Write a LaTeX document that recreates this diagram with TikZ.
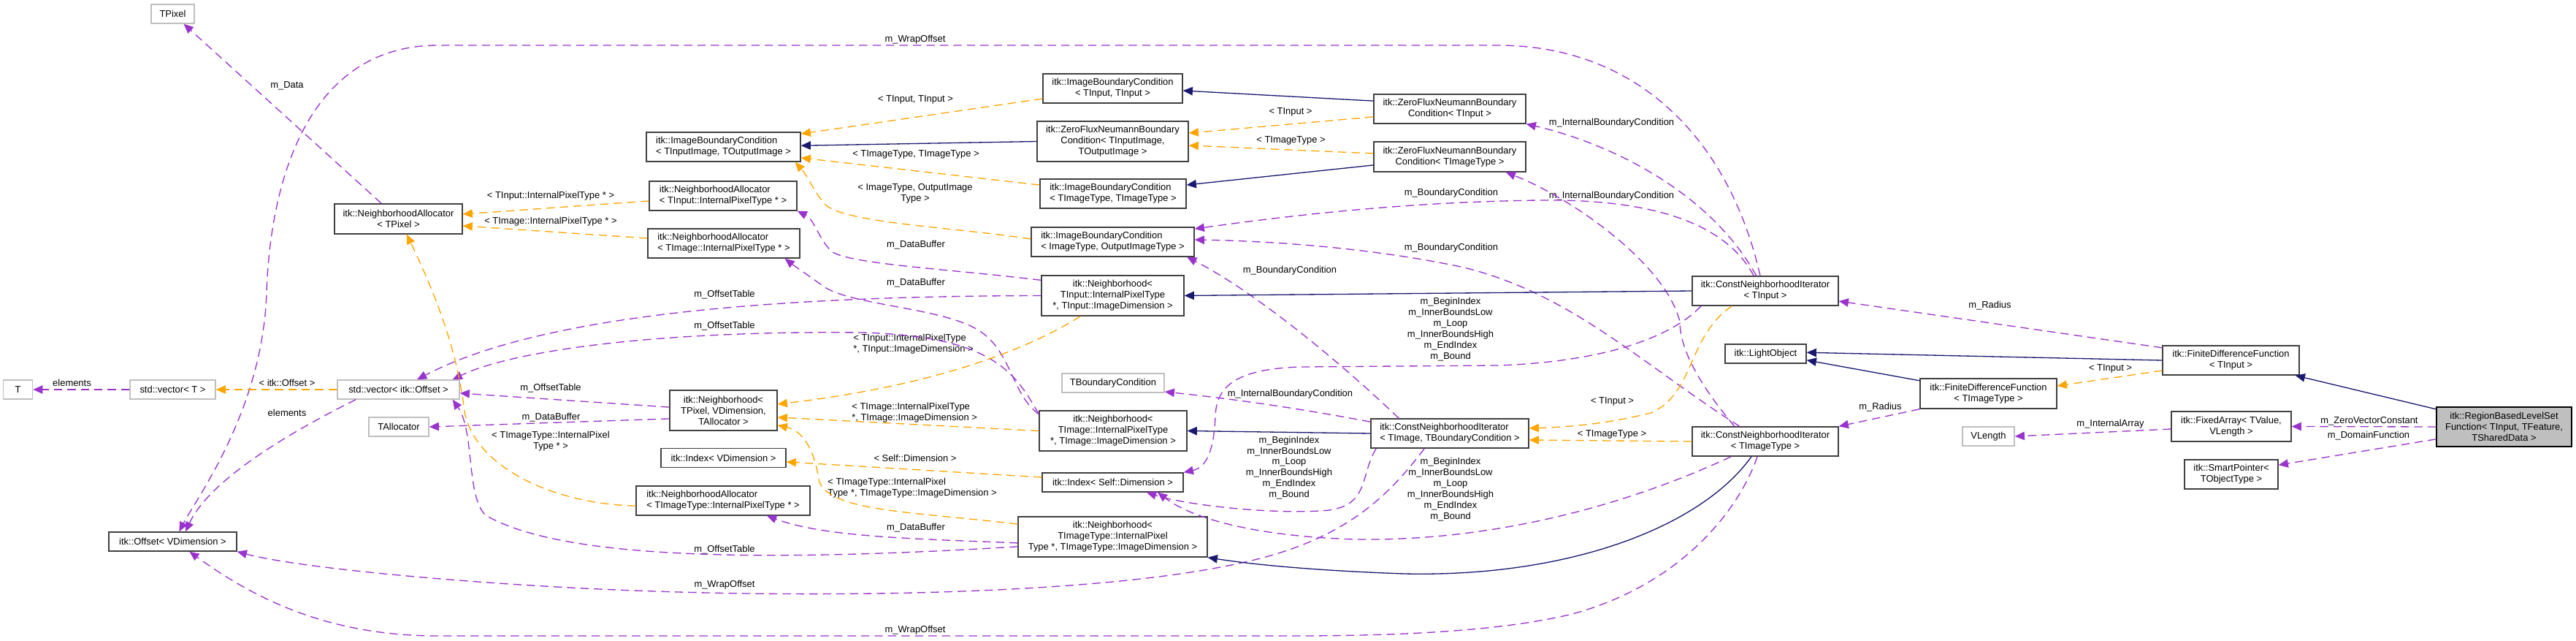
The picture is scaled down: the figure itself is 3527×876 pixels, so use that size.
\documentclass[tikz,border=0pt]{standalone}
\usepackage{fontspec}
\setmainfont{Liberation Sans}
\usetikzlibrary{arrows.meta}
\definecolor{usecol}{RGB}{154,50,205}
\definecolor{tplcol}{RGB}{255,165,0}
\definecolor{inhcol}{RGB}{25,25,112}
\definecolor{boxcol}{RGB}{64,64,64}
\definecolor{extcol}{RGB}{191,191,191}

\begin{document}
\begin{tikzpicture}[x=0.02cm, y=-0.02cm, font={\fontsize{7.37}{8.5}\selectfont},
    cls/.style={rectangle, draw=boxcol, fill=white, line width=0.8pt, inner sep=1pt, align=center},
    clsl/.style={cls, align=left},
    ext/.style={cls, draw=extcol},
    focus/.style={cls, draw=black, fill=extcol},
    lbl/.style={inner sep=0pt, align=center},
    lbll/.style={inner sep=0pt, align=left, anchor=west},
    usedge/.style={draw=usecol, line width=0.75pt, dash pattern=on 6.5pt off 4pt, -{Triangle[length=7.5pt,width=6.5pt]}},
    tpledge/.style={usedge, draw=tplcol},
    inhedge/.style={draw=inhcol, line width=0.75pt, -{Triangle[length=7.5pt,width=6.5pt]}}]
  \useasboundingbox (0,0) rectangle (3527,876);

  % classes
  \foreach \n/\s/\x/\y/\w/\h/\txt in {
    tpixel/ext/236.5/19/59/26/TPixel,
    t/ext/24.5/533/40/26/T,
    vect/ext/236.5/533/117/26/{std::vector< T >},
    vecoff/ext/545.5/533/167/26/{std::vector< itk::Offset >},
    talloc/ext/546/584/82/26/TAllocator,
    tbc/ext/1524/524/140/26/TBoundaryCondition,
    vlen/ext/2722.5/597/71/26/VLength,
    natp/cls/545.5/299.5/175/41/{itk::NeighborhoodAllocator\\< TPixel >},
    offset/cls/236.5/741/175/26/{itk::Offset< VDimension >},
    ibcio/clsl/990.5/201/211/40/{itk::ImageBoundaryCondition\\< TInputImage, TOutputImage >},
    nain/clsl/990/268/202/40/{itk::NeighborhoodAllocator\\< TInput::InternalPixelType * >},
    naim/clsl/991/333/208/40/{itk::NeighborhoodAllocator\\< TImage::InternalPixelType * >},
    nbpix/cls/990.5/561.5/147/55/{itk::Neighborhood<\\TPixel, VDimension,\\TAllocator >},
    idxv/cls/990.5/626.5/171/26/{itk::Index< VDimension >},
    nait/clsl/990/685/238/40/{itk::NeighborhoodAllocator\\< TImageType::InternalPixelType * >},
    ibcin/cls/1523.5/121/191/40/{itk::ImageBoundaryCondition\\< TInput, TInput >},
    zfio/cls/1523.5/193.5/207/55/{itk::ZeroFluxNeumannBoundary\\Condition< TInputImage,\\TOutputImage >},
    ibcit/clsl/1524/265/200/40/{itk::ImageBoundaryCondition\\< TImageType, TImageType >},
    ibcout/clsl/1523.5/331/223/40/{itk::ImageBoundaryCondition\\< ImageType, OutputImageType >},
    nbin/cls/1523.5/404.5/195/55/{itk::Neighborhood<\\TInput::InternalPixelType\\*, TInput::ImageDimension >},
    nbim/cls/1524/589.5/202/55/{itk::Neighborhood<\\TImage::InternalPixelType\\*, TImage::ImageDimension >},
    idxs/cls/1523.5/660/193/26/{itk::Index< Self::Dimension >},
    nbit/cls/1523.5/734.5/259/55/{itk::Neighborhood<\\TImageType::InternalPixel\\Type *, TImageType::ImageDimension >},
    zfin/cls/1985/149/208/40/{itk::ZeroFluxNeumannBoundary\\Condition< TInput >},
    zfit/cls/1985/214.5/208/41/{itk::ZeroFluxNeumannBoundary\\Condition< TImageType >},
    cnitb/clsl/1985/593/216/40/{itk::ConstNeighborhoodIterator\\< TImage, TBoundaryCondition >},
    cniin/cls/2417/398/200/40/{itk::ConstNeighborhoodIterator\\< TInput >},
    cniit/cls/2417/604/200/40/{itk::ConstNeighborhoodIterator\\< TImageType >},
    light/cls/2417.5/484/111/26/{itk::LightObject},
    fdfit/cls/2722.5/538.5/187/41/{itk::FiniteDifferenceFunction\\< TImageType >},
    fdfin/cls/3054.5/493/187/40/{itk::FiniteDifferenceFunction\\< TInput >},
    farr/cls/3055/583.5/164/41/{itk::FixedArray< TValue,\\VLength >},
    sptr/cls/3055/649/128/40/{itk::SmartPointer<\\TObjectType >},
    rblsf/focus/3428.5/584/185/54/{itk::RegionBasedLevelSet\\Function< TInput, TFeature,\\TSharedData >}%
  }{
    \node[\s, minimum width=\w*0.02cm, minimum height=\h*0.02cm] (\n) at (\x,\y) {\txt};
  }

  % edge labels
  \foreach \x/\y/\txt [count=\i] in {
    393/117/m\_Data, 98.5/524/elements, 393/524/{< itk::Offset >}, 393/565/elements,
    754/268/{< TInput::InternalPixelType * >}, 754/303/{< TImage::InternalPixelType * >},
    754/531/m\_OffsetTable, 754.5/571/m\_DataBuffer, 754/604/{< TImageType::InternalPixel\\Type * >},
    992/403/m\_OffsetTable, 992/446/m\_OffsetTable, 992/752/m\_OffsetTable, 992/800/m\_WrapOffset,
    1253/54/m\_WrapOffset, 1253/862/m\_WrapOffset,
    1253.5/136/{< TInput, TInput >}, 1254/211/{< TImageType, TImageType >},
    1253/264.5/{< ImageType, OutputImage\\Type >},
    1254/335/m\_DataBuffer, 1254/387/m\_DataBuffer, 1254/722/m\_DataBuffer,
    1253/627/{< Self::Dimension >}, 1767/153/{< TInput >}, 1767.5/192/{< TImageType >},
    1987/264/m\_BoundaryCondition, 1987/339/m\_BoundaryCondition, 1766/370/m\_BoundaryCondition,
    2206.5/168/m\_InternalBoundaryCondition, 2206.5/268/m\_InternalBoundaryCondition,
    1766.5/539/m\_InternalBoundaryCondition,
    1986/450.5/{m\_BeginIndex\\m\_InnerBoundsLow\\m\_Loop\\m\_InnerBoundsHigh\\m\_EndIndex\\m\_Bound},
    1986/669.5/{m\_BeginIndex\\m\_InnerBoundsLow\\m\_Loop\\m\_InnerBoundsHigh\\m\_EndIndex\\m\_Bound},
    1765/640/{m\_BeginIndex\\m\_InnerBoundsLow\\m\_Loop\\m\_InnerBoundsHigh\\m\_EndIndex\\m\_Bound},
    2207.5/549/{< TInput >}, 2207/594/{< TImageType >},
    2724.5/418/m\_Radius, 2574.5/557/m\_Radius, 2889.5/504/{< TInput >},
    2889.5/580/m\_InternalArray, 3244/576/m\_ZeroVectorConstant, 3243/596/m\_DomainFunction%
  }{
    \node[lbl] (lab\i) at (\x,\y) {\txt};
  }
  \node[lbll] (labin) at (1168,470.5) {< TInput::InternalPixelType\\*, TInput::ImageDimension >};
  \node[lbll] (labim) at (1166,564.5) {< TImage::InternalPixelType\\*, TImage::ImageDimension >};
  \node[lbll] (labit) at (1133,668) {< TImageType::InternalPixel\\Type *, TImageType::ImageDimension >};

  % usage
  \draw[usedge] (natp) -- (tpixel);
  \draw[usedge] (vect) -- (t);
  \draw[usedge] ([xshift=14.7pt]vecoff.south west) .. controls (420,580) and (290,650) .. ([xshift=10pt]offset.north);
  \draw[usedge] ([yshift=2.5pt]nbpix.west) -- ([yshift=-2.8pt]vecoff.east);
  \draw[usedge] ([yshift=-6.5pt]nbpix.west) -- (talloc.east);
  \draw[usedge] ([yshift=-4pt]nbin.north west) .. controls (1300,368) and (1170,362) .. (1140,345) .. controls (1122,330) and (1115,300) .. (nain.south east);
  \draw[usedge] (nbin.west) .. controls (1100,405) and (750,425) .. ([xshift=-33.4pt]vecoff.north east);
  \draw[usedge] ([yshift=-3pt]nbim.north west) .. controls (1385,540) and (1385,480) .. (1340,452) .. controls (1290,420) and (1160,418) .. (1125,390) .. controls (1100,372) and (1085,362) .. ([xshift=-12pt]naim.south east);
  \draw[usedge] ([yshift=-3pt]nbim.north west) .. controls (1390,510) and (1360,460) .. (1180,455) .. controls (900,452) and (700,480) .. ([xshift=-5.7pt]vecoff.north east);
  \draw[usedge] ([yshift=-4.8pt]nbit.west) .. controls (1250,737) and (1130,735) .. ([xshift=-34pt]nait.south east);
  \draw[usedge] ([yshift=-7.6pt]nbit.west) .. controls (1000,772) and (760,760) .. (665,705) .. controls (638,680) and (650,590) .. ([xshift=-5.7pt]vecoff.south east);
  \draw[usedge] ([yshift=9pt]cnitb.west) .. controls (1770,557) and (1680,545) .. ([yshift=1pt]tbc.south east);
  \draw[usedge] ([xshift=4.5pt]cnitb.south west) .. controls (1862,650) and (1875,690) .. (1820,698) .. controls (1740,705) and (1620,690) .. ([xshift=26.4pt]idxs.south);
  \draw[usedge] ([xshift=-39.7pt]cnitb.north) .. controls (1840,500) and (1720,400) .. ([xshift=-6pt]ibcout.south east);
  \draw[usedge] ([xshift=-19.8pt]cnitb.south) .. controls (1900,680) and (1840,740) .. (1700,770) .. controls (1500,815) and (1100,820) .. (800,805) .. controls (600,795) and (400,775) .. (offset.south east);
  \draw[usedge] ([xshift=-4pt]cniin.north) .. controls (2370,200) and (2250,62) .. (2050,62) -- (600,62) .. controls (420,62) and (370,250) .. (365,400) .. controls (360,560) and (270,680) .. ([xshift=5pt]offset.north);
  \draw[usedge] ([xshift=-9pt]cniin.north) .. controls (2360,300) and (2250,272) .. (2107,274) .. controls (1950,276) and (1800,290) .. ([yshift=10.2pt]ibcout.east);
  \draw[usedge] ([xshift=-7pt]cniin.north) .. controls (2340,260) and (2200,195) .. (zfin.south east);
  \draw[usedge] ([xshift=-50pt]cniin.south) .. controls (2290,460) and (2200,495) .. (2050,500) -- (1780,502) .. controls (1690,505) and (1665,530) .. (1664,570) .. controls (1662,620) and (1650,640) .. (idxs.north east);
  \draw[usedge] ([xshift=-6.2pt]cniit.south) .. controls (2380,700) and (2300,800) .. (2153,840) .. controls (2050,865) and (1900,870) .. (1770,870) -- (600,870) .. controls (450,870) and (350,820) .. ([xshift=13pt]offset.south);
  \draw[usedge] ([xshift=-26.6pt]cniit.south) .. controls (2230,690) and (2050,740) .. (1860,738) .. controls (1740,735) and (1640,715) .. ([xshift=35pt]idxs.south);
  \draw[usedge] ([xshift=-20pt]cniit.north) .. controls (2250,500) and (2150,400) .. (2000,365) .. controls (1880,340) and (1750,330) .. ([yshift=1.7pt]ibcout.east);
  \draw[usedge] ([xshift=-24pt]cniit.north) .. controls (2330,530) and (2300,480) .. (2300,440) .. controls (2280,360) and (2150,270) .. ([xshift=-15.9pt]zfit.south east);
  \draw[usedge] (fdfit.south west) -- (cniit.north east);
  \draw[usedge] ([yshift=-2pt]fdfin.north west) -- ([yshift=-8pt]cniin.east);
  \draw[usedge] ([yshift=-2pt]farr.west) -- (vlen.east);
  \draw[usedge] (rblsf.west) -- (farr.east);
  \draw[usedge] ([yshift=-9.6pt]rblsf.west) -- ([yshift=-4.5pt]sptr.north east);

  % template instances
  \draw[tpledge] (vecoff) -- (vect);
  \draw[tpledge] ([yshift=-4pt]nain.west) -- ([yshift=3.7pt]natp.east);
  \draw[tpledge] ([yshift=4pt]naim.west) -- ([yshift=-5.4pt]natp.east);
  \draw[tpledge] ([yshift=-4pt]nait.west) .. controls (760,690) and (650,640) .. (636,563) .. controls (625,470) and (590,390) .. ([xshift=6.5pt]natp.south);
  \draw[tpledge] ([yshift=-8pt]ibcin.west) -- ([yshift=10.2pt]ibcio.east);
  \draw[tpledge] ([yshift=6.8pt]ibcit.west) -- ([yshift=-8.5pt]ibcio.east);
  \draw[tpledge] ([yshift=2.3pt]ibcout.west) .. controls (1300,310) and (1150,305) .. (1128,278) .. controls (1115,262) and (1105,240) .. ([xshift=-4.5pt]ibcio.south east);
  \draw[tpledge] ([yshift=-6.2pt]zfin.west) -- ([yshift=6.5pt]zfio.east);
  \draw[tpledge] ([yshift=2.6pt]zfit.west) -- ([yshift=-3.1pt]zfio.east);
  \draw[tpledge] ([xshift=-25.2pt]nbin.south) .. controls (1420,470) and (1300,525) .. ([yshift=4.8pt]nbpix.east);
  \draw[tpledge] (nbim.west) -- ([yshift=-5.4pt]nbpix.east);
  \draw[tpledge] ([yshift=9.9pt]nbit.west) .. controls (1250,700) and (1140,700) .. (1122,660) .. controls (1115,615) and (1100,590) .. ([yshift=-11.5pt]nbpix.east);
  \draw[tpledge] ([yshift=4pt]idxs.west) -- ([yshift=-3.1pt]idxv.east);
  \draw[tpledge] ([xshift=-26pt]cniin.south) .. controls (2310,460) and (2320,540) .. (2260,565) .. controls (2200,580) and (2150,584) .. ([yshift=4pt]cnitb.east);
  \draw[tpledge] (cniit.west) -- ([yshift=-5.1pt]cnitb.east);
  \draw[tpledge] ([yshift=-8pt]fdfin.west) -- ([yshift=6pt]fdfit.east);

  % inheritance
  \draw[inhedge] ([yshift=6.2pt]zfin.west) -- ([yshift=-1.7pt]ibcin.east);
  \draw[inhedge] ([yshift=-6.5pt]zfit.west) -- ([yshift=6.8pt]ibcit.east);
  \draw[inhedge] (zfio.west) -- ([yshift=1pt]ibcio.east);
  \draw[inhedge] (cniin.west) -- (nbin.east);
  \draw[inhedge] (cnitb.west) -- (nbim.east);
  \draw[inhedge] ([xshift=-10.8pt]cniit.south) .. controls (2330,720) and (2150,790) .. (1923,785) .. controls (1780,780) and (1700,770) .. (nbit.south east);
  \draw[inhedge] (fdfin.west) -- ([yshift=1pt]light.east);
  \draw[inhedge] ([yshift=-2pt]fdfit.north west) -- ([yshift=-5pt]light.east);
  \draw[inhedge] ([yshift=-2pt]rblsf.north west) -- ([xshift=-3.4pt]fdfin.south east);
\end{tikzpicture}
\end{document}
